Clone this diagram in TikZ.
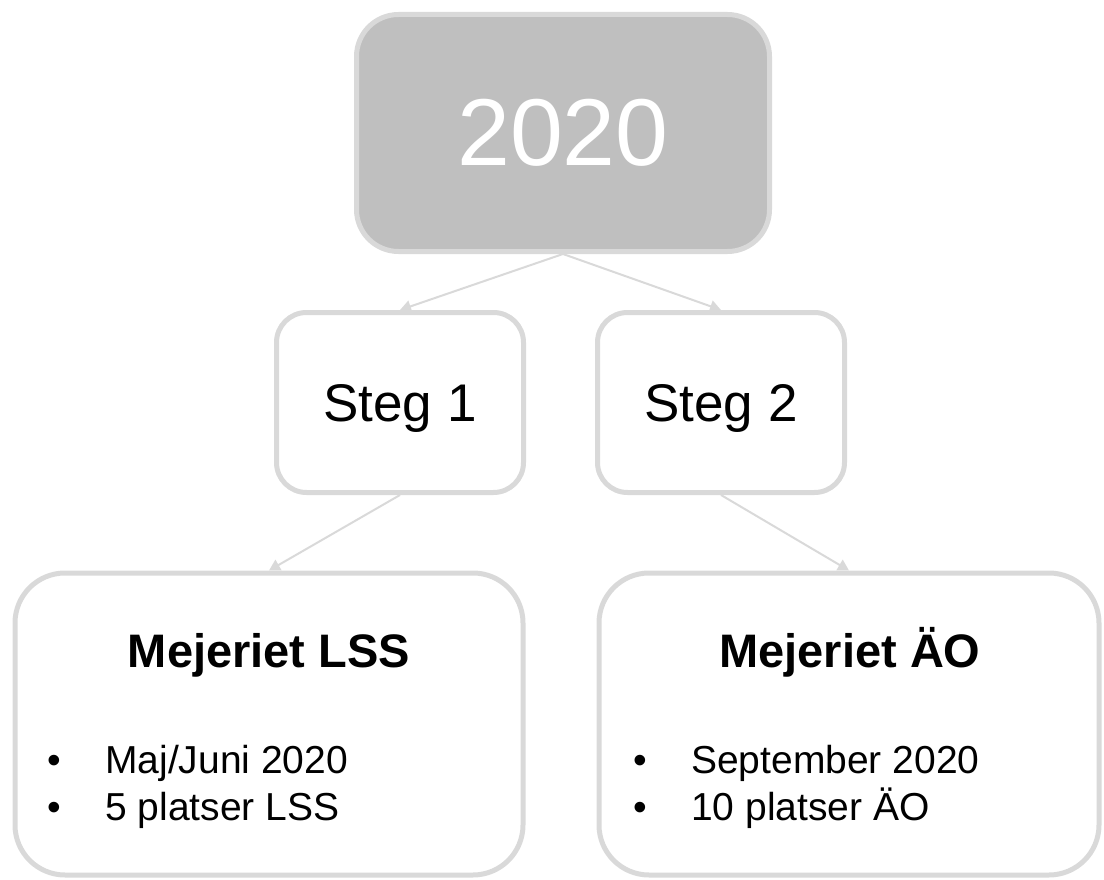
\documentclass[tikz,border=0pt]{standalone}
\usepackage{fontspec}
\setmainfont{Liberation Sans}
\usetikzlibrary{arrows.meta}

\definecolor{boxgray}{HTML}{D9D9D9}
\definecolor{yeargray}{HTML}{BFBFBF}

\tikzset{
  box/.style={rectangle, draw=boxgray, line width=5pt, fill=white, inner sep=0pt},
  yearbox/.style={box, fill=yeargray, text=white, minimum width=413pt,
    minimum height=237pt, rounded corners=42pt, font=\fontsize{95}{114}\selectfont},
  stegbox/.style={box, minimum width=247pt, minimum height=180pt,
    rounded corners=30pt, text depth=0pt, font=\fontsize{53}{64}\selectfont},
  placebox/.style={box, minimum height=302pt, rounded corners=50pt},
  placetitle/.style={anchor=base, inner sep=0pt, font=\fontsize{47}{56}\selectfont\bfseries},
  placeitem/.style={anchor=base west, inner sep=0pt, font=\fontsize{39}{47}\selectfont},
  link/.style={draw=boxgray, line width=2pt, -{Triangle[length=11pt,width=12pt]}}
}

\begin{document}
\begin{tikzpicture}[x=1pt, y=-1pt]
  \useasboundingbox (0,0) rectangle (1104,880);

  \node (year) at (563, 133) [yearbox] {2020};

  \node (steg1) at (400, 402.5) [stegbox] {Steg 1};
  \node (steg2) at (721, 402.5) [stegbox] {Steg 2};

  \node (lss) at (269, 724) [placebox, minimum width=508pt] {};
  \node (ao)  at (849, 724) [placebox, minimum width=500pt] {};

  \node (lsstitle) at (269, 667) [placetitle] {Mejeriet LSS};
  \node (lssa) at (47, 773) [placeitem] {\makebox[58pt][l]{•}Maj/Juni 2020};
  \node (lssb) at (47, 820) [placeitem] {\makebox[58pt][l]{•}5 platser LSS};

  \node (aotitle) at (850, 667) [placetitle] {Mejeriet ÄO};
  \node (aoa) at (633, 773) [placeitem] {\makebox[58pt][l]{•}September 2020};
  \node (aob) at (633, 820) [placeitem] {\makebox[58pt][l]{•}10 platser ÄO};

  \draw[link] (year.south) -- (steg1.north);
  \draw[link] (year.south) -- (steg2.north);
  \draw[link] (steg1.south) -- (lss.north);
  \draw[link] (steg2.south) -- (ao.north);
\end{tikzpicture}
\end{document}
